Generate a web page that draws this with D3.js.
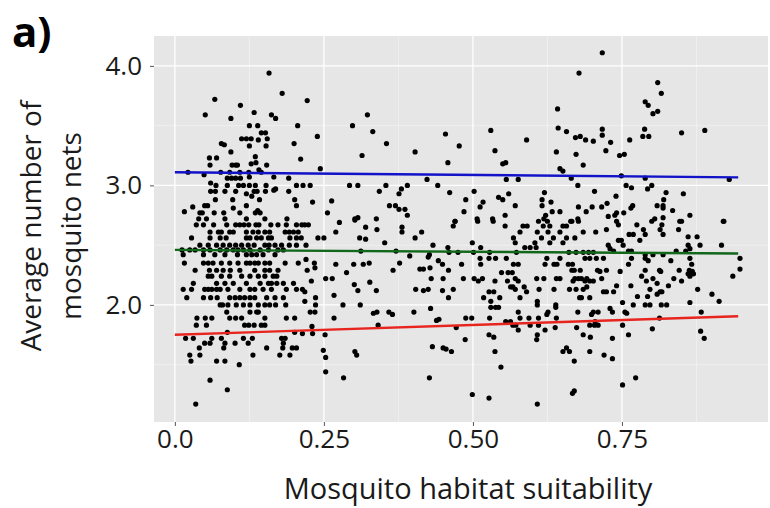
<!DOCTYPE html>
<html>
<head>
<meta charset="utf-8">
<script src="https://cdn.jsdelivr.net/npm/d3@7"></script>
<style>
  body { margin: 0; background: #fff; }
  text { font-family: "Open Sans", sans-serif; }
</style>
</head>
<body>
<div id="chart"></div>
<script>
// axis ticks
const xTicks = [0, 0.25, 0.5, 0.75];
const xTickLabels = ["0.0", "0.25", "0.50", "0.75"];
const xMinor = [0.125, 0.375, 0.625, 0.875];
const yTicks = [2, 3, 4];
const yTickLabels = ["2.0", "3.0", "4.0"];
const yMinor = [1.5, 2.5, 3.5];

// fitted lines: value at start and end of the suitability range
const lineX = [0, 0.945];
const upperLine = [3.11, 3.067];
const middleLine = [2.46, 2.43];
const lowerLine = [1.75, 1.905];

// single points [suitability, nets]
const scattered = [
  [0.158,3.94],[0.180,3.77],[0.067,3.72],[0.110,3.67],[0.051,3.59],[0.094,3.56],[0.133,3.61],[0.162,3.59],[0.169,3.56],
  [0.125,3.50],[0.139,3.50],[0.206,3.50],[0.145,3.44],[0.152,3.44],[0.112,3.39],[0.120,3.39],[0.128,3.39],[0.140,3.38],
  [0.155,3.39],[0.078,3.35],[0.083,3.34],[0.125,3.33],[0.153,3.33],[0.200,3.35],[0.094,3.28],[0.058,3.23],[0.070,3.23],
  [0.135,3.24],[0.059,3.17],[0.096,3.17],[0.102,3.17],[0.105,3.17],[0.128,3.18],[0.136,3.19],[0.154,3.17],[0.141,3.13],
  [0.022,3.11],[0.077,3.11],[0.092,3.11],[0.109,3.11],[0.124,3.11],[0.145,3.11],[0.049,3.09],[0.088,3.06],[0.095,3.06],
  [0.102,3.06],[0.110,3.06],[0.125,3.07],[0.166,3.07],[0.191,3.06],[0.060,3.02],[0.069,3.0],[0.088,3.0],[0.107,3.0],
  [0.115,3.0],[0.125,3.0],[0.135,3.0],[0.153,3.0],[0.204,3.0],[0.166,2.96],[0.169,2.97],[0.191,2.95],[0.060,2.95],
  [0.068,2.95],[0.084,2.95],[0.102,2.95],[0.120,2.93],[0.133,2.95],[0.138,2.95],[0.152,2.95],[0.068,2.88],[0.097,2.88],
  [0.129,2.91],[0.142,2.88],[0.201,2.88],[0.050,2.83],[0.055,2.83],[0.120,2.83],[0.204,2.83],[0.030,2.82],[0.016,2.78],
  [0.042,2.77],[0.046,2.77],[0.066,2.77],[0.082,2.77],[0.098,2.81],[0.109,2.77],[0.135,2.77],[0.139,2.79],[0.143,2.77],
  [0.040,2.72],[0.053,2.72],[0.084,2.72],[0.120,2.72],[0.151,2.72],[0.188,2.72],
  [0.222,3.71],[0.323,3.59],[0.298,3.50],[0.332,3.45],[0.239,3.41],[0.454,3.43],[0.355,3.35],[0.211,3.22],[0.314,3.25],
  [0.403,3.28],[0.458,3.19],[0.244,3.14],[0.293,3.0],[0.307,3.0],[0.215,3.0],[0.227,3.0],[0.354,3.0],[0.423,3.05],
  [0.441,3.0],[0.390,3.0],[0.380,2.97],[0.376,2.93],[0.343,2.95],[0.231,2.86],[0.263,2.87],[0.360,2.83],[0.370,2.83],
  [0.376,2.80],[0.386,2.80],[0.390,2.75],[0.256,2.77],[0.302,2.72],[0.307,2.73],[0.338,2.72],
  [0.213,2.67],[0.218,2.67],[0.224,2.67],[0.276,2.69],[0.302,2.71],[0.320,2.65],[0.339,2.63],[0.270,2.61],[0.240,2.56],
  [0.250,2.56],[0.212,2.56],[0.310,2.56],[0.320,2.55],[0.352,2.52],[0.381,2.65],[0.381,2.61],[0.403,2.56],[0.414,2.61],
  [0.220,2.50],[0.312,2.45],[0.371,2.45],[0.394,2.41],[0.425,2.40],[0.427,2.42],[0.433,2.50],[0.458,2.48],[0.460,2.44],
  [0.220,2.38],[0.234,2.35],[0.235,2.31],[0.222,2.29],[0.270,2.34],[0.300,2.34],[0.316,2.34],[0.326,2.35],[0.377,2.35],
  [0.442,2.37],[0.449,2.34],[0.411,2.30],[0.417,2.30],[0.428,2.31],[0.459,2.29],[0.366,2.29],[0.288,2.27],[0.229,2.20],
  [0.253,2.22],[0.264,2.22],[0.327,2.19],[0.430,2.22],[0.450,2.22],[0.301,2.17],[0.307,2.12],[0.338,2.12],[0.404,2.13],
  [0.417,2.12],[0.425,2.13],[0.449,2.12],[0.214,2.13],[0.218,2.11],[0.459,2.06],[0.267,2.08],[0.218,2.03],[0.236,2.06],
  [0.236,2.0],[0.235,1.94],[0.227,1.94],[0.282,2.0],[0.311,2.0],[0.429,1.97],[0.333,1.93],[0.339,1.94],[0.359,1.94],
  [0.365,1.92],[0.401,1.94],[0.267,1.89],[0.439,1.87],[0.443,1.88],[0.230,1.82],[0.231,1.76],[0.341,1.83],[0.214,1.76],
  [0.252,1.75],[0.249,1.62],[0.253,1.56],[0.253,1.44],[0.302,1.61],[0.305,1.58],[0.283,1.39],[0.432,1.65],[0.450,1.64],
  [0.455,1.63],[0.427,1.39],
  [0.678,3.94],[0.642,3.64],[0.530,3.46],[0.643,3.48],[0.657,3.45],[0.590,3.38],[0.477,3.33],[0.537,3.29],[0.672,3.40],
  [0.680,3.41],[0.689,3.38],[0.702,3.37],[0.640,3.28],[0.673,3.26],[0.685,3.17],[0.550,3.18],[0.555,3.19],[0.646,3.14],
  [0.651,3.12],[0.556,3.05],[0.576,3.05],[0.665,3.06],[0.676,3.0],[0.461,2.94],[0.502,2.95],[0.560,2.93],[0.620,2.94],
  [0.704,2.95],[0.488,2.88],[0.543,2.90],[0.550,2.88],[0.517,2.86],[0.512,2.82],[0.571,2.83],[0.616,2.88],[0.631,2.86],
  [0.616,2.83],[0.677,2.82],[0.700,2.82],[0.485,2.78],[0.554,2.75],[0.622,2.75],[0.633,2.78],[0.646,2.78],[0.690,2.78],
  [0.507,2.72],[0.533,2.72],[0.470,2.70],[0.619,2.72],[0.676,2.72],[0.666,2.70],
  [0.717,4.11],[0.810,3.86],[0.816,3.77],[0.789,3.70],[0.794,3.67],[0.802,3.60],[0.810,3.62],[0.717,3.47],[0.717,3.42],
  [0.788,3.47],[0.785,3.41],[0.795,3.41],[0.763,3.38],[0.850,3.44],[0.889,3.46],[0.731,3.36],[0.723,3.29],[0.746,3.25],
  [0.754,3.26],[0.749,3.08],[0.789,3.06],[0.930,3.05],[0.757,3.0],[0.766,2.98],[0.800,3.0],[0.793,2.97],[0.824,2.94],
  [0.820,2.88],[0.819,2.83],[0.853,2.93],[0.740,2.91],[0.725,2.85],[0.716,2.82],[0.768,2.83],[0.765,2.81],[0.809,2.83],
  [0.819,2.81],[0.835,2.79],[0.864,2.75],[0.741,2.77],[0.738,2.75],[0.753,2.77],[0.727,2.74],[0.805,2.72],[0.819,2.73],
  [0.921,2.70],[0.850,2.70]
];

// points sharing one level: [nets, [suitability, ...]]
const levelRows = [
  [2.67, [0.036,0.048,0.065,0.087,0.102,0.109,0.116,0.124,0.136,0.141,0.161,0.173,0.187,0.204]],
  [2.61, [0.059,0.073,0.078,0.092,0.098,0.120,0.131,0.140,0.151,0.159,0.185,0.192,0.199,0.207]],
  [2.56, [0.028,0.059,0.076,0.086,0.120,0.126,0.137,0.145,0.157,0.162,0.193,0.204]],
  [2.50, [0.042,0.056,0.070,0.081,0.092,0.102,0.112,0.123,0.133,0.151,0.158,0.168,0.179,0.192,0.204]],
  [2.46, [0.012,0.025,0.034,0.048,0.059,0.076,0.087,0.098,0.106,0.115,0.126,0.143,0.157,0.173,0.182]],
  [2.42, [0.014,0.048,0.067,0.084,0.105,0.120,0.129,0.137,0.148,0.168]],
  [2.35, [0.016,0.048,0.056,0.064,0.078,0.092,0.106,0.120,0.126,0.134,0.140,0.151,0.159,0.185,0.207]],
  [2.29, [0.034,0.058,0.070,0.081,0.093,0.109,0.134,0.151,0.159,0.173]],
  [2.24, [0.056,0.062,0.078,0.092,0.112,0.126,0.140,0.151,0.165,0.171]],
  [2.18, [0.031,0.070,0.084,0.098,0.120,0.143,0.157,0.162,0.171,0.182,0.199]],
  [2.13, [0.014,0.028,0.050,0.056,0.062,0.070,0.076,0.089,0.109,0.126,0.134,0.148,0.162,0.187,0.204]],
  [2.06, [0.020,0.048,0.060,0.071,0.092,0.101,0.109,0.117,0.126,0.134,0.154,0.168,0.182]],
  [2.00, [0.076,0.080,0.089,0.103,0.115,0.126,0.140,0.151,0.159,0.169,0.186]],
  [1.94, [0.087,0.126,0.137,0.140]],
  [1.89, [0.037,0.051,0.062,0.092,0.102,0.112,0.151,0.187,0.201]],
  [1.83, [0.036,0.053,0.117,0.124,0.133,0.145,0.151]],
  [1.77, [0.088,0.201]],
  [1.72, [0.018,0.031,0.062,0.078,0.115,0.130,0.179,0.185]],
  [1.68, [0.050,0.059,0.084,0.101,0.123,0.182]],
  [1.64, [0.041,0.082,0.154,0.181,0.197,0.204]],
  [1.58, [0.025,0.042,0.131,0.176,0.193]],
  [1.53, [0.027,0.070,0.084]],
  [1.50, [0.108]],
  [1.37, [0.059]],
  [1.29, [0.088]],
  [1.17, [0.035]],
  [2.70, [0.470,0.508,0.534,0.610,0.625,0.664,0.677]],
  [2.66, [0.467,0.554,0.584,0.591,0.618,0.629,0.651,0.657]],
  [2.61, [0.579,0.608,0.626,0.646,0.685,0.706]],
  [2.56, [0.568,0.615,0.635,0.657,0.671]],
  [2.52, [0.499,0.571,0.604,0.629,0.651]],
  [2.48, [0.513,0.587,0.596,0.606]],
  [2.44, [0.475,0.501,0.528,0.573,0.661,0.673,0.685,0.694,0.702]],
  [2.39, [0.512,0.527,0.538,0.556,0.624,0.646,0.688,0.696,0.707]],
  [2.34, [0.481,0.513,0.568,0.576,0.621,0.636,0.641,0.660,0.667]],
  [2.29, [0.666,0.670,0.680,0.709]],
  [2.27, [0.548,0.559,0.566]],
  [2.22, [0.484,0.502,0.516,0.571,0.607,0.619,0.640,0.646,0.671,0.677,0.682,0.691]],
  [2.20, [0.509,0.537,0.558,0.576,0.668,0.688,0.696,0.702]],
  [2.15, [0.563,0.567,0.586,0.691]],
  [2.13, [0.467,0.571,0.611,0.636,0.662,0.673,0.685]],
  [2.11, [0.527,0.535,0.590]],
  [2.06, [0.518,0.545,0.579,0.679,0.682,0.696]],
  [2.03, [0.530,0.608]],
  [2.00, [0.608,0.639]],
  [1.98, [0.530,0.538,0.543,0.639]],
  [1.94, [0.576,0.626,0.676,0.702,0.710]],
  [1.92, [0.624,0.699]],
  [1.89, [0.488,0.498,0.528,0.579,0.594,0.610,0.640]],
  [1.86, [0.555,0.563,0.705]],
  [1.83, [0.567,0.572,0.596,0.610,0.696,0.704,0.710]],
  [1.81, [0.472,0.638,0.674]],
  [1.79, [0.576,0.621]],
  [1.75, [0.527,0.608,0.685]],
  [1.73, [0.535,0.697]],
  [1.71, [0.487,0.607]],
  [1.64, [0.657]],
  [1.61, [0.464,0.537,0.651,0.662,0.696]],
  [1.53, [0.670]],
  [1.48, [0.547]],
  [1.28, [0.670]],
  [1.26, [0.667]],
  [1.25, [0.499]],
  [1.22, [0.527]],
  [1.17, [0.608]],
  [2.70, [0.741,0.800,0.847,0.920]],
  [2.67, [0.744,0.775,0.817]],
  [2.63, [0.724,0.786,0.814,0.845]],
  [2.59, [0.762,0.769,0.789,0.819]],
  [2.57, [0.861,0.876]],
  [2.54, [0.744,0.749,0.780]],
  [2.50, [0.727,0.752,0.861,0.881,0.917]],
  [2.47, [0.730,0.864]],
  [2.45, [0.736,0.761,0.766,0.841,0.857]],
  [2.42, [0.789,0.802,0.819]],
  [2.39, [0.719,0.766,0.789,0.864,0.948]],
  [2.37, [0.794,0.832]],
  [2.34, [0.761,0.867]],
  [2.30, [0.948]],
  [2.29, [0.724,0.789,0.813,0.846,0.863]],
  [2.28, [0.713,0.747,0.815,0.864,0.868]],
  [2.26, [0.861,0.870]],
  [2.24, [0.783,0.864,0.936]],
  [2.22, [0.716,0.802,0.837]],
  [2.20, [0.791,0.850]],
  [2.18, [0.809]],
  [2.16, [0.741,0.765,0.828]],
  [2.13, [0.797,0.877]],
  [2.11, [0.719,0.724,0.736,0.814,0.817]],
  [2.09, [0.901,0.809]],
  [2.07, [0.776,0.793]],
  [2.03, [0.913]],
  [2.02, [0.751,0.864]],
  [2.00, [0.769,0.789,0.797,0.816,0.825]],
  [1.97, [0.730]],
  [1.94, [0.734,0.755,0.883]],
  [1.93, [0.758]],
  [1.89, [0.813]],
  [1.83, [0.751]],
  [1.80, [0.801]],
  [1.78, [0.882]],
  [1.75, [0.761]],
  [1.72, [0.734,0.888]],
  [1.58, [0.720]],
  [1.55, [0.734]],
  [1.39, [0.773]],
  [1.33, [0.751]]
];

const points = scattered.concat(
  levelRows.flatMap(([y, xs]) => xs.map((x) => [x, y]))
);

const width = 770;
const height = 508;
const panel = { left: 154, right: 768, top: 36, bottom: 422 };

const svg = d3.select("#chart")
  .append("svg")
  .attr("width", width)
  .attr("height", height);

const x = d3.scaleLinear().domain([-0.035, 0.995]).range([panel.left, panel.right]);
const y = d3.scaleLinear().domain([1.02, 4.25]).range([panel.bottom, panel.top]);

// panel background
svg.append("rect")
  .attr("x", panel.left)
  .attr("y", panel.top)
  .attr("width", panel.right - panel.left)
  .attr("height", panel.bottom - panel.top)
  .attr("fill", "#e6e6e6");

// grid
const grid = svg.append("g");
grid.selectAll(".xminor").data(xMinor).enter().append("line")
  .attr("x1", (d) => x(d)).attr("x2", (d) => x(d))
  .attr("y1", panel.top).attr("y2", panel.bottom)
  .attr("stroke", "#f4f4f4").attr("stroke-width", 0.7);
grid.selectAll(".yminor").data(yMinor).enter().append("line")
  .attr("y1", (d) => y(d)).attr("y2", (d) => y(d))
  .attr("x1", panel.left).attr("x2", panel.right)
  .attr("stroke", "#f4f4f4").attr("stroke-width", 0.7);
grid.selectAll(".xmajor").data(xTicks).enter().append("line")
  .attr("x1", (d) => x(d)).attr("x2", (d) => x(d))
  .attr("y1", panel.top).attr("y2", panel.bottom)
  .attr("stroke", "#fff").attr("stroke-width", 1.3);
grid.selectAll(".ymajor").data(yTicks).enter().append("line")
  .attr("y1", (d) => y(d)).attr("y2", (d) => y(d))
  .attr("x1", panel.left).attr("x2", panel.right)
  .attr("stroke", "#fff").attr("stroke-width", 1.3);

// axes
const xAxis = svg.append("g")
  .attr("transform", `translate(0,${panel.bottom})`)
  .call(d3.axisBottom(x).tickValues(xTicks).tickSize(4).tickPadding(4)
    .tickFormat((d, i) => xTickLabels[i]));
const yAxis = svg.append("g")
  .attr("transform", `translate(${panel.left},0)`)
  .call(d3.axisLeft(y).tickValues(yTicks).tickSize(4).tickPadding(8)
    .tickFormat((d, i) => yTickLabels[i]));
[xAxis, yAxis].forEach((a) => {
  a.select(".domain").remove();
  a.selectAll(".tick line").attr("stroke", "#555");
  a.selectAll(".tick text")
    .attr("fill", "#1a1a1a")
    .style("font-family", "'Open Sans', sans-serif")
    .style("font-size", "26px");
});

// points
svg.append("g")
  .selectAll("circle")
  .data(points)
  .enter()
  .append("circle")
  .attr("cx", (d) => x(d[0]))
  .attr("cy", (d) => y(d[1]))
  .attr("r", 2.6)
  .attr("fill", "#000");

// fitted lines
const line = d3.line()
  .x((d) => x(d[0]))
  .y((d) => y(d[1]));
[[upperLine, "#1212c8"], [middleLine, "#11671a"], [lowerLine, "#e8241f"]].forEach(([vals, col]) => {
  svg.append("path")
    .datum(lineX.map((v, i) => [v, vals[i]]))
    .attr("d", line)
    .attr("fill", "none")
    .attr("stroke", col)
    .attr("stroke-width", 2.4);
});

// axis titles
svg.append("text")
  .attr("x", 468)
  .attr("y", 499)
  .attr("text-anchor", "middle")
  .attr("fill", "#1a1a1a")
  .style("font-size", "29px")
  .text("Mosquito habitat suitability");

const yTitle = svg.append("text")
  .attr("transform", "translate(0,226) rotate(-90)")
  .attr("text-anchor", "middle")
  .attr("fill", "#1a1a1a")
  .style("font-size", "28px");
yTitle.append("tspan").attr("x", 0).attr("y", 41).text("Average number of");
yTitle.append("tspan").attr("x", 0).attr("y", 81).text("mosquito nets");

// panel tag
svg.append("text")
  .attr("x", 12)
  .attr("y", 47)
  .attr("fill", "#000")
  .style("font-size", "42px")
  .style("font-weight", "bold")
  .text("a)");
</script>
</body>
</html>
